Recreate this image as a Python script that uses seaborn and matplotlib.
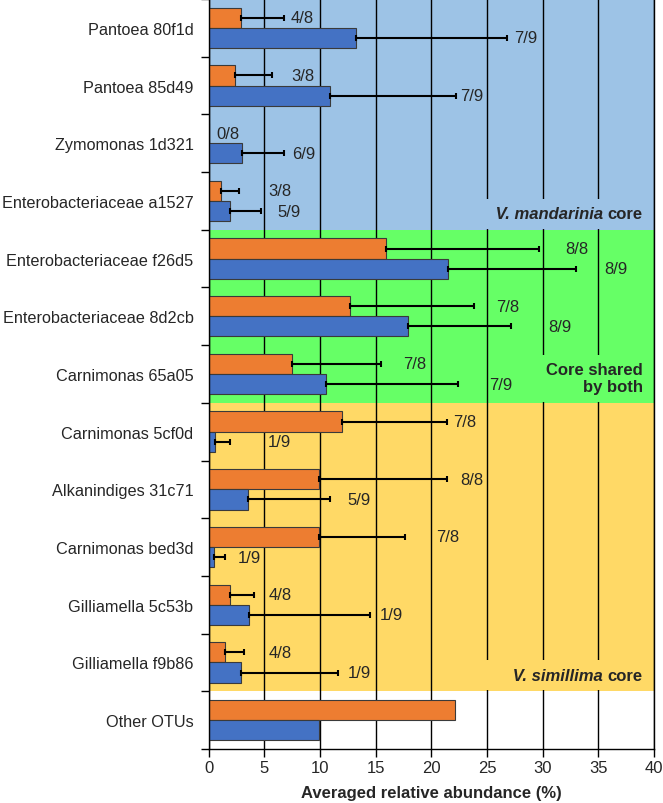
import numpy as np
import pandas as pd
import matplotlib
matplotlib.use("Agg")
import matplotlib.pyplot as plt
import seaborn as sns

# ---------------- data ----------------
otus = ["Pantoea 80f1d", "Pantoea 85d49", "Zymomonas 1d321", "Enterobacteriaceae a1527",
        "Enterobacteriaceae f26d5", "Enterobacteriaceae 8d2cb", "Carnimonas 65a05",
        "Carnimonas 5cf0d", "Alkanindiges 31c71", "Carnimonas bed3d",
        "Gilliamella 5c53b", "Gilliamella f9b86", "Other OTUs"]

simillima_mean = [2.9, 2.4, 0.0, 1.1, 15.9, 12.7, 7.5, 12.0, 9.9, 9.9, 1.9, 1.5, 22.1]
simillima_err = [3.9, 3.3, np.nan, 1.6, 13.8, 11.1, 8.0, 9.4, 11.5, 7.7, 2.2, 1.7, np.nan]
mandarinia_mean = [13.2, 10.9, 3.0, 1.9, 21.5, 17.9, 10.5, 0.6, 3.5, 0.5, 3.6, 2.9, 9.9]
mandarinia_err = [13.6, 11.3, 3.8, 2.8, 11.5, 9.3, 11.9, 1.3, 7.4, 1.0, 10.9, 8.7, np.nan]

simillima_freq = ["4/8", "3/8", "0/8", "3/8", "8/8", "7/8", "7/8", "7/8", "8/8", "7/8", "4/8", "4/8", ""]
mandarinia_freq = ["7/9", "7/9", "6/9", "5/9", "8/9", "8/9", "7/9", "1/9", "5/9", "1/9", "1/9", "1/9", ""]
# x position (data units) where each frequency label starts
simillima_label_x = [7.4, 7.4, 0.65, 5.35, 32.0, 25.8, 17.5, 22.0, 22.6, 20.4, 5.35, 5.35, 0]
mandarinia_label_x = [27.4, 22.6, 7.45, 6.2, 35.5, 30.5, 25.2, 5.3, 12.5, 2.6, 15.4, 12.5, 0]

core_groups = ["V. mandarinia core", "Core shared\nby both", "V. simillima core"]
core_italic = ["V. mandarinia", None, "V. simillima"]
core_sizes = [4, 3, 5]
band_colors = ["#9DC3E6", "#66FF66", "#FFD966"]
bar_colors = ["#ED7D31", "#4472C4"]
species = ["V. simillima", "V. mandarinia"]

# ---------------- figure ----------------
sns.set_style("white")
plt.rcParams["font.family"] = ["Liberation Sans", "DejaVu Sans"]
plt.rcParams["font.size"] = 12

fig = plt.figure(figsize=(6.63, 8.04), dpi=100)
ax = fig.add_axes([0.3148, 0.0672, 0.6716, 0.9328])

df = pd.DataFrame({
    "OTU": otus * 2,
    "abundance": simillima_mean + mandarinia_mean,
    "species": [species[0]] * len(otus) + [species[1]] * len(otus),
})

sns.barplot(data=df, y="OTU", x="abundance", hue="species", orient="h",
            palette=bar_colors, saturation=1, width=0.7, errorbar=None,
            edgecolor="#3a3a3a", linewidth=0.8, legend=False, ax=ax, zorder=2)

# background bands
start = -0.5
for size, col in zip(core_sizes, band_colors):
    ax.axhspan(start, start + size, color=col, zorder=0, lw=0)
    start += size

# error bars and frequency labels
for cont, errs, freqs, lx in zip(ax.containers,
                                 [simillima_err, mandarinia_err],
                                 [simillima_freq, mandarinia_freq],
                                 [simillima_label_x, mandarinia_label_x]):
    ys, xs, es = [], [], []
    for p, e, f, tx in zip(cont.patches, errs, freqs, lx):
        yc = p.get_y() + p.get_height() / 2
        if not np.isnan(e):
            ys.append(yc); xs.append(p.get_width()); es.append(e)
        if f:
            ax.text(tx, yc, f, ha="left", va="center", fontsize=12, zorder=4)
    ax.errorbar(xs, ys, xerr=[np.zeros(len(es)), es], fmt="none", ecolor="black",
                elinewidth=1.5, capsize=2.5, capthick=1.5, zorder=3)

# band labels (box in band colour hides grid lines behind the text)
start = -0.5
for name, ital, size, col, lead in zip(core_groups, core_italic, core_sizes, band_colors, [" ", "", "      "]):
    end = start + size
    box = dict(boxstyle="square,pad=0.45", fc=col, ec="none")
    if ital:
        plain = name[len(ital):].strip()
        t1 = ax.annotate(plain, xy=(1, end), xycoords=("axes fraction", "data"),
                         xytext=(-8, 6), textcoords="offset points", ha="right", va="bottom",
                         fontweight="bold", fontsize=12, zorder=4)
        ax.annotate(lead + ital + " ", xy=(0, 0), xycoords=t1, ha="right", va="bottom",
                    fontweight="bold", fontstyle="italic", fontsize=12, bbox=box, zorder=3.5)
    else:
        ax.annotate(name, xy=(1, end), xycoords=("axes fraction", "data"),
                    xytext=(-8, 6), textcoords="offset points", ha="right", va="bottom",
                    multialignment="right", fontweight="bold", fontsize=12,
                    bbox=box, zorder=3.5)
    start = end

# axes styling
ax.set_xlim(0, 40)
ax.set_ylim(len(otus) - 0.5, -0.5)
ax.set_xticks(np.arange(0, 41, 5))
ax.set_yticks(np.arange(-0.5, len(otus), 1), minor=True)
ax.grid(axis="x", color="black", lw=1, zorder=1)
ax.set_axisbelow(True)
ax.tick_params(axis="y", which="major", length=0, pad=11, labelsize=11.7)
ax.tick_params(axis="y", which="minor", length=6, width=1, color="black", direction="out", left=True)
ax.tick_params(axis="x", which="major", length=6, width=1, color="black", direction="out",
               bottom=True, pad=2, labelsize=12)
ax.set_ylabel("")
ax.set_xlabel("Averaged relative abundance (%)", fontweight="bold", fontsize=12, labelpad=7.5)
for s in ["left", "bottom", "right"]:
    ax.spines[s].set_visible(True)
    ax.spines[s].set_color("black")
    ax.spines[s].set_linewidth(1)
ax.spines["top"].set_visible(False)

fig.savefig("out.png", dpi=100)
